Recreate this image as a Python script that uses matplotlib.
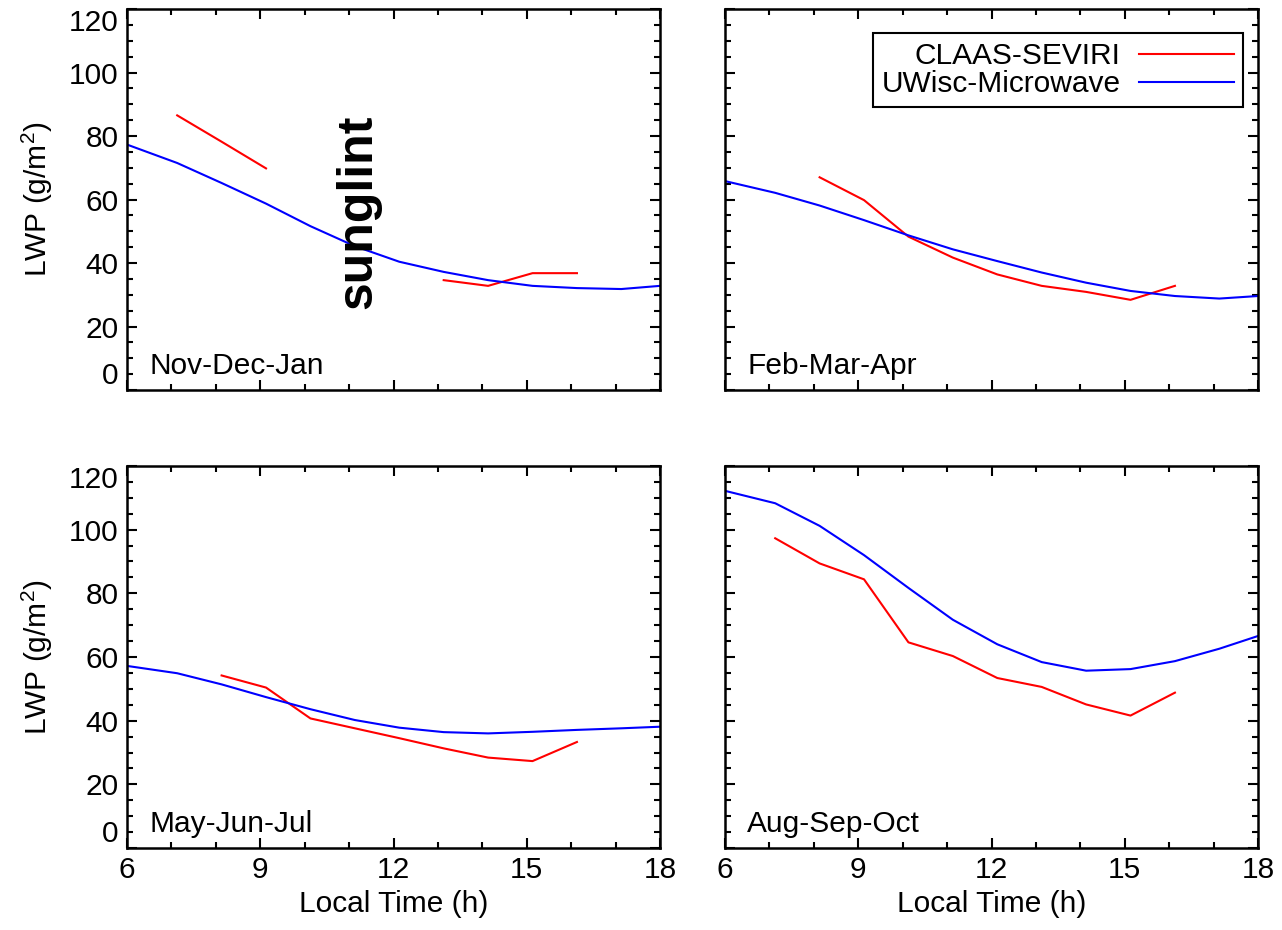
import numpy as np
import matplotlib
matplotlib.use('Agg')
import matplotlib.pyplot as plt
from matplotlib.ticker import MultipleLocator

plt.rcParams['font.family'] = ['Liberation Sans', 'DejaVu Sans']
plt.rcParams['mathtext.fontset'] = 'custom'
plt.rcParams['mathtext.rm'] = 'Liberation Sans'
plt.rcParams['mathtext.default'] = 'regular'

# local time of the hourly values (h)
hours_uwisc = [6.0, 7.13, 8.13, 9.13, 10.13, 11.13, 12.13, 13.13, 14.13, 15.13, 16.13, 17.13, 18.0]
hours_claas_7 = [7.13, 8.13, 9.13, 10.13, 11.13, 12.13, 13.13, 14.13, 15.13, 16.13]
hours_claas_8 = [8.13, 9.13, 10.13, 11.13, 12.13, 13.13, 14.13, 15.13, 16.13]

seasons = ['Nov-Dec-Jan', 'Feb-Mar-Apr', 'May-Jun-Jul', 'Aug-Sep-Oct']

# LWP (g/m2)
uwisc_ndj = [77.3, 71.5, 65.2, 58.7, 51.6, 45.3, 40.4, 37.2, 34.6, 32.8, 32.1, 31.8, 32.8]
uwisc_fma = [65.8, 62.1, 58.1, 53.5, 48.7, 44.3, 40.6, 37.0, 33.8, 31.2, 29.6, 28.8, 29.6]
uwisc_mjj = [57.2, 54.9, 51.4, 47.4, 43.6, 40.2, 37.8, 36.4, 36.0, 36.5, 37.1, 37.6, 38.1]
uwisc_aso = [112.2, 108.3, 101.2, 92.0, 81.7, 71.7, 64.0, 58.4, 55.7, 56.2, 58.7, 62.6, 66.6]

claas_ndj = [86.5, 78.2, 69.8, np.nan, np.nan, np.nan, 34.6, 32.8, 36.8, 36.8]
claas_fma = [67.0, 59.8, 48.3, 41.7, 36.4, 32.8, 30.9, 28.4, 32.8]
claas_mjj = [54.2, 50.4, 40.7, 37.6, 34.5, 31.3, 28.4, 27.3, 33.3]
claas_aso = [97.3, 89.4, 84.4, 64.6, 60.3, 53.4, 50.6, 45.1, 41.6, 48.8]

uwisc_all = [uwisc_ndj, uwisc_fma, uwisc_mjj, uwisc_aso]
claas_all = [claas_ndj, claas_fma, claas_mjj, claas_aso]
claas_hours = [hours_claas_7, hours_claas_8, hours_claas_8, hours_claas_7]

fs = 21.5
fig = plt.figure(figsize=(12.82, 9.3), dpi=100)
W, H = 1282., 930.
boxes = [(127, 9, 660, 390), (725, 9, 1258, 390),
		 (127, 466, 660, 848), (725, 466, 1258, 848)]

axes = []
for k, (x0, y0, x1, y1) in enumerate(boxes):
	ax = fig.add_axes([x0/W, 1-y1/H, (x1-x0)/W, (y1-y0)/H])
	axes.append(ax)
	ax.plot(claas_hours[k], claas_all[k], color='#ff0000', lw=1.5, label='CLAAS-SEVIRI')
	ax.plot(hours_uwisc, uwisc_all[k], color='#0000ff', lw=1.5, label='UWisc-Microwave')
	ax.set_xlim(6, 18)
	ax.set_ylim(0, 120)
	ax.xaxis.set_major_locator(MultipleLocator(3))
	ax.xaxis.set_minor_locator(MultipleLocator(1))
	ax.yaxis.set_major_locator(MultipleLocator(20))
	ax.yaxis.set_minor_locator(MultipleLocator(5))
	ax.tick_params(which='both', direction='in', top=True, right=True, width=1.5,
		labelsize=fs, pad=6)
	ax.tick_params(which='major', length=7.5)
	ax.tick_params(which='minor', length=4)
	for sp in ax.spines.values():
		sp.set_linewidth(1.8)
	ax.text(6.5, 3, seasons[k], fontsize=fs, ha='left', va='bottom')
	if k < 2:
		ax.tick_params(labelbottom=False)
	else:
		ax.set_xlabel('Local Time (h)', fontsize=fs, labelpad=4)
	if k % 2 == 1:
		ax.tick_params(labelleft=False)
	else:
		ax.set_ylabel('LWP (g/m$^2$)', fontsize=fs, labelpad=10)
		# end labels sit inside the frame, as in the original
		fig.canvas.draw()
		for tick in ax.yaxis.get_major_ticks():
			if abs(tick.get_loc()) < 1e-6:
				tick.label1.set_verticalalignment('bottom')
			elif abs(tick.get_loc() - 120) < 1e-6:
				tick.label1.set_verticalalignment('top')

axes[0].text(11.2, 56, 'sunglint', fontsize=36, fontweight='bold', rotation=90,
	ha='center', va='center')

leg = axes[1].legend(loc='upper right', bbox_to_anchor=(0.972, 0.937), borderaxespad=0,
	markerfirst=False, fontsize=fs, handlelength=3.2, handletextpad=0.6,
	labelspacing=0.0, borderpad=0.3, fancybox=False, framealpha=1, edgecolor='black')
leg.get_frame().set_linewidth(1.5)

fig.savefig('out.png', dpi=100)
